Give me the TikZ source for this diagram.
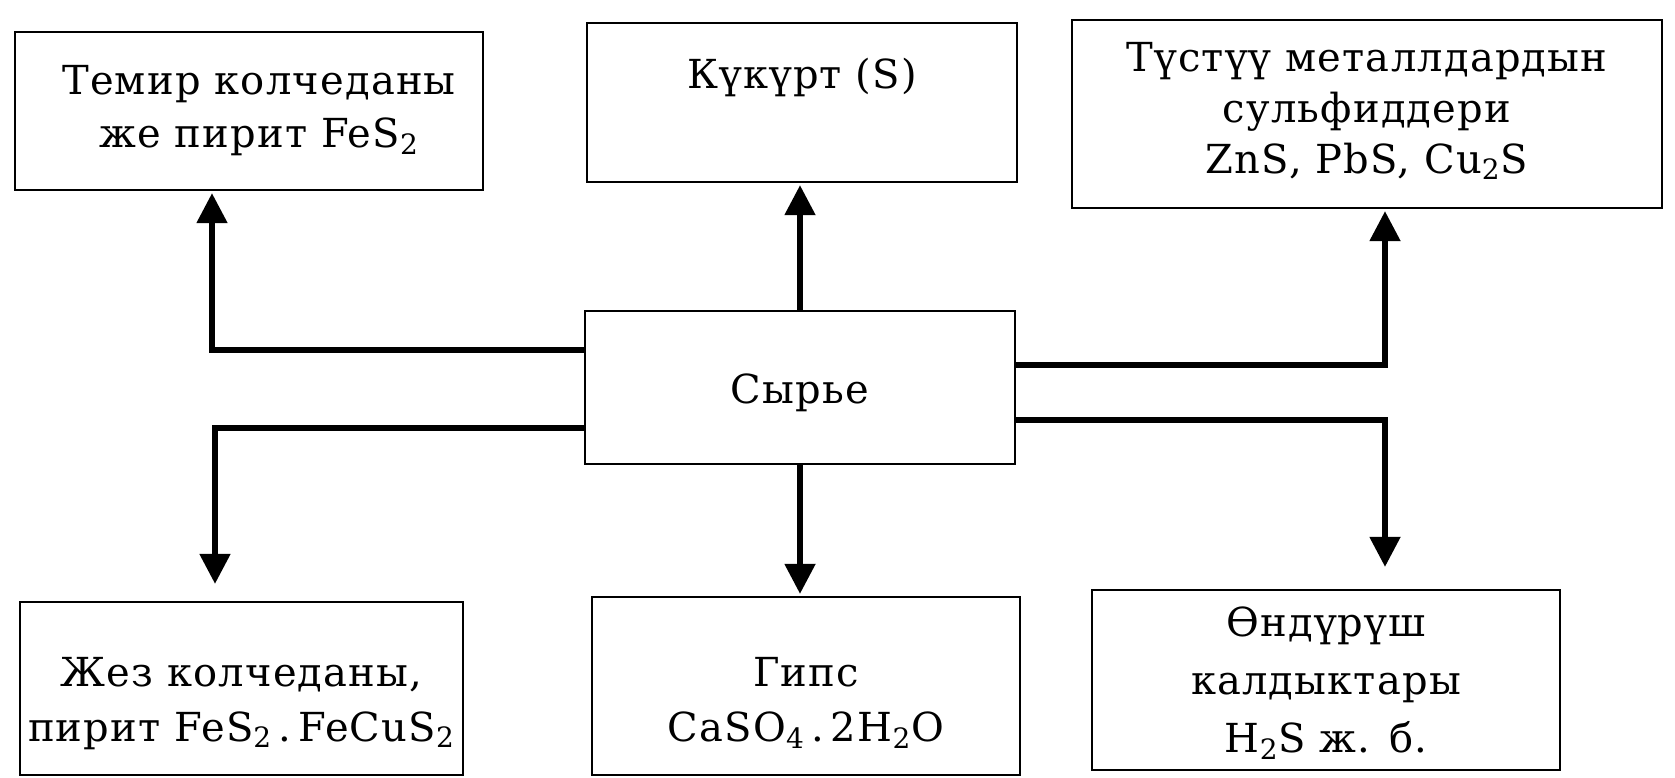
\documentclass[tikz,border=0pt]{standalone}
\usepackage{fontspec}
\setmainfont[LetterSpace=3]{DejaVu Serif}
\usetikzlibrary{arrows.meta}

\begin{document}
\begin{tikzpicture}[x=0.5pt, y=-0.5pt, thick,
        box/.style={rectangle, draw, line width=1.2pt, inner sep=0pt},
        txt/.style={align=center, inner sep=0pt, font=\fontsize{20}{26.5}\selectfont},
        arr/.style={-{Triangle[length=15pt, width=15pt]}, line width=2.6pt, shorten >=1pt}]

            \useasboundingbox (0,0) rectangle (1675,777);

            % Boxes

            \foreach \name/\x/\y/\w/\h in {
                temir/249/111/234/79,
                kukurt/802/102.5/215/79.5,
                tustuu/1367/114/295/94,
                syrye/800/387.5/215/76.5,
                jez/241.5/688.5/221.5/86.5,
                gips/806/686/214/89,
                ondurush/1326/680/234/90
            } {
                \node [box, minimum width=\w pt, minimum height=\h pt] (\name) at (\x,\y) {};
            }

            % Texts

            \node [txt] (t1) at ([xshift=5pt]temir.center) {Темир колчеданы\\же пирит FeS\textsubscript{2}};
            \node [txt] (t2) at ([yshift=12.5pt]kukurt.center) {Күкүрт (S)};
            \node [txt, font=\fontsize{20}{25.5}\selectfont] (t3) at ([yshift=1.5pt]tustuu.center) {Түстүү металлдардын\\сульфиддери\\ZnS, PbS, Cu\textsubscript{2}S};
            \node [txt] (t0) at ([yshift=-2.5pt]syrye.center) {Сырье};
            \node [txt, font=\fontsize{20}{27.5}\selectfont] (t4) at ([yshift=-7.5pt]jez.center) {Жез колчеданы,\\пирит FeS\textsubscript{2}\,.\,FeCuS\textsubscript{2}};
            \node [txt, font=\fontsize{20}{27.5}\selectfont] (t5) at ([yshift=-8.5pt]gips.center) {Гипс\\CaSO\textsubscript{4}\,.\,2H\textsubscript{2}O};
            \node [txt, font=\fontsize{20}{29}\selectfont] (t6) at ([yshift=-1.5pt]ondurush.center) {Өндүрүш\\калдыктары\\H\textsubscript{2}S ж. б.};

            % Arrows

            \draw [arr] ([yshift=18.75pt]syrye.west) -| ([xshift=-18.5pt]temir.south);
            \draw [arr] (syrye.north) -- (syrye.north |- kukurt.south);
            \draw [arr] ([yshift=11.25pt]syrye.east) -| ([xshift=9pt]tustuu.south);
            \draw [arr, shorten >=8.5pt] ([yshift=-20.25pt]syrye.west) -| ([xshift=-13.25pt]jez.north);
            \draw [arr] (syrye.south) -- (syrye.south |- gips.north);
            \draw [arr, shorten >=11pt] ([yshift=-16.25pt]syrye.east) -| ([xshift=29.5pt]ondurush.north);
        \end{tikzpicture}
\end{document}
